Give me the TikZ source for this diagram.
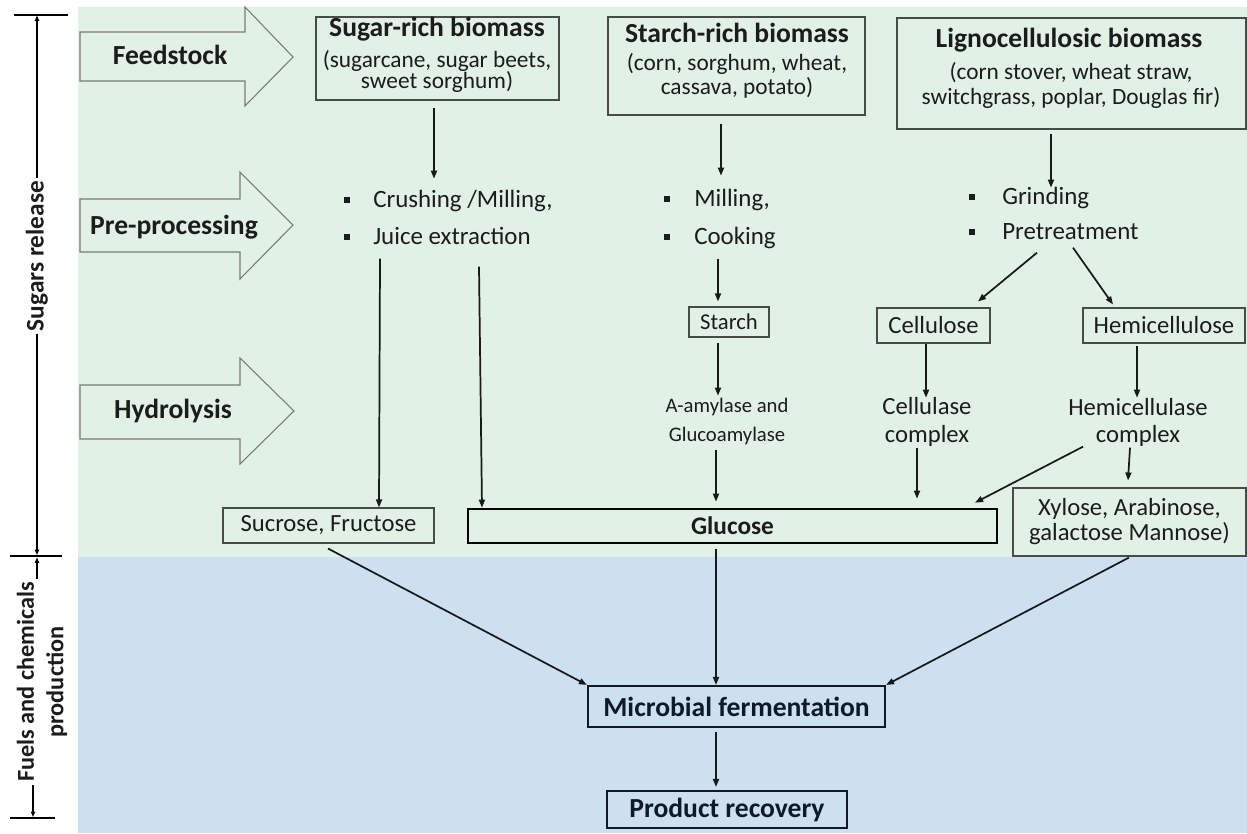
\documentclass[tikz,border=0pt]{standalone}
\usepackage{fontspec}
\setmainfont{Carlito}
\usetikzlibrary{arrows.meta,calc}
\definecolor{bggreen}{HTML}{E2F1E6}
\definecolor{bgblue}{HTML}{CCE0F0}
\definecolor{agray}{HTML}{7A7A7A}
\definecolor{bgray}{HTML}{4A4A4A}
\definecolor{navy}{HTML}{0E1A2B}
\definecolor{txt}{HTML}{1C1C1C}
\begin{document}
\begin{tikzpicture}[x=0.75pt,y=-0.75pt,
  lbl/.style={font=\fontsize{20.7}{24}\selectfont\bfseries,text=txt,inner sep=0,anchor=mid,yshift=-3.5pt},
  ttl/.style={font=\fontsize{20.7}{24}\selectfont\bfseries,text=txt,inner sep=0,anchor=mid,yshift=-3.5pt},
  bod/.style={font=\fontsize{17.5}{20}\selectfont,text=txt,inner sep=0,anchor=mid,yshift=-3.5pt},
  reg/.style={font=\fontsize{18.5}{22}\selectfont,text=txt,inner sep=0,anchor=mid,yshift=-3.5pt},
  bul/.style={font=\fontsize{18.7}{22}\selectfont,text=txt,inner sep=0,anchor=mid west,yshift=-3.5pt},
  enz/.style={font=\fontsize{15.5}{18}\selectfont,text=txt,inner sep=0,anchor=mid,yshift=-3.5pt},
  side/.style={font=\fontsize{19}{22}\selectfont\bfseries,text=txt,inner sep=0,rotate=90,align=center},
  sq/.style={fill=txt,minimum size=5.2pt,inner sep=0},
  tbox/.style={draw=bgray,line width=0.8pt,inner sep=0,font=\fontsize{18.5}{22}\selectfont,text=txt},
  gbox/.style={draw=black,line width=2pt,inner sep=0,font=\fontsize{19}{22}\selectfont\bfseries,text=txt},
  nbox/.style={draw=navy,line width=1.6pt,inner sep=0,font=\fontsize{20.7}{24}\selectfont\bfseries,text=navy},
  barrow/.style={fill=bggreen,draw=agray,line width=0.8pt},
  arr/.style={-{Triangle[length=6pt,width=4.5pt]},line width=1.3pt,draw=black!90},
  darr/.style={-{Triangle[length=4pt,width=3.2pt]},line width=0.9pt,draw=black},
  rule/.style={line width=1.1pt,draw=black}
]
\fill[white] (0,0) rectangle (1247,833);
\useasboundingbox (0,0) rectangle (1247,833);
\fill[bggreen] (78,7) rectangle (1247,557);
\fill[bgblue] (78,557) rectangle (1247,833);

% block arrows
\draw[barrow] (80,32) -- (245,32) -- (245,7) -- (293,57) -- (245,106) -- (245,81) -- (80,81) -- cycle;
\draw[barrow] (80,199) -- (240,199) -- (240,172) -- (293,225) -- (240,279) -- (240,252) -- (80,252) -- cycle;
\draw[barrow] (80,385) -- (240,385) -- (240,358) -- (294,411) -- (240,464) -- (240,439) -- (80,439) -- cycle;
\node[lbl] (fs) at (170,57) {Feedstock};
\node[lbl] (pp) at (174,227) {Pre-processing};
\node[lbl] (hy) at (173,411) {Hydrolysis};

% feedstock boxes
\node[tbox,minimum width=182.25pt,minimum height=62.25pt] (sbox) at (437.5,58.5) {};
\node[ttl] (st1) at (437,29) {Sugar-rich biomass};
\node[bod] (st2) at (437,60) {(sugarcane, sugar beets,};
\node[bod] (st3) at (437,81) {sweet sorghum)};

\node[tbox,minimum width=192.75pt,minimum height=73.5pt] (cbox) at (736.5,66) {};
\node[ttl] (ct1) at (737,35) {Starch-rich biomass};
\node[bod] (ct2) at (737,63) {(corn, sorghum, wheat,};
\node[bod] (ct3) at (737,87) {cassava, potato)};

\node[tbox,minimum width=261.75pt,minimum height=83.25pt] (lbox) at (1071.5,73.5) {};
\node[ttl] (lt1) at (1069,40) {Lignocellulosic biomass};
\node[bod] (lt2) at (1071,72) {(corn stover, wheat straw,};
\node[bod] (lt3) at (1071,97) {switchgrass, poplar, Douglas fir)};

% bullets
\node[sq] (b1) at (347,200) {}; \node[bul] (cr) at (373,200) {Crushing /Milling,};
\node[sq] (b2) at (347,237) {}; \node[bul] (je) at (373,237) {Juice extraction};
\node[sq] (b3) at (667,199) {}; \node[bul] (mi) at (694,199) {Milling,};
\node[sq] (b4) at (667,237) {}; \node[bul] (co) at (694,237) {Cooking};
\node[sq] (b5) at (972,197) {}; \node[bul] (gr) at (1002,197) {Grinding};
\node[sq] (b6) at (972,232) {}; \node[bul] (pt) at (1002,232) {Pretreatment};

% intermediate
\node[tbox,minimum width=60pt,minimum height=22.5pt,font=\fontsize{17}{20}\selectfont] (stb) at (729,322) {Starch};
\node[tbox,minimum width=84.75pt,minimum height=26.25pt] (cel) at (933.5,325.5) {Cellulose};
\node[tbox,minimum width=121.5pt,minimum height=26.25pt] (hem) at (1164,325.5) {Hemicellulose};
\node[enz] (am) at (727,405) {A-amylase and};
\node[enz] (ga) at (727,434) {Glucoamylase};
\node[reg] (cl) at (927,407) {Cellulase};
\node[reg] (cx) at (927,435) {complex};
\node[reg] (hl) at (1138,408) {Hemicellulase};
\node[reg] (hx) at (1138,435) {complex};

% sugars
\node[tbox,minimum width=158.25pt,minimum height=26.25pt] (suc) at (328.5,525.5) {Sucrose, Fructose};
\node[gbox,minimum width=396.75pt,minimum height=25.5pt] (glu) at (732.5,526) {Glucose};
\node[tbox,minimum width=174.75pt,minimum height=51pt,align=center,font=\fontsize{18.5}{18.75}\selectfont] (xy) at (1129.5,522) {Xylose, Arabinose,\\galactose Mannose)};

% production
\node[nbox,minimum width=222.75pt,minimum height=30.75pt] (mic) at (736.5,706.5) {Microbial fermentation};
\node[nbox,minimum width=180pt,minimum height=27.75pt] (prod) at (727,809.5) {Product recovery};

% side labels
\node[side] (sr) at (37,256) {Sugars release};
\node[side,font=\fontsize{18.2}{22}\selectfont\bfseries] (fc) at (42,682) {Fuels and chemicals\\production};
\coordinate (t1) at (37,15.5);
\coordinate (t2) at (37,555);
\coordinate (t3) at (37,557.5);
\coordinate (t4) at (33,817);
\draw[rule] (14,15) -- (68,15);
\draw[rule] (10,556) -- (62,556);
\draw[rule] (10,818) -- (55,818);
\draw[darr] ($(sr.east)+(0,-3)$) -- (t1);
\draw[darr] ($(sr.west)+(0,3)$) -- (t2);
\draw[darr] ($(fc.east)+(-5,-3)$) -- (t3);
\draw[darr] ($(fc.west)+(-9,3)$) -- (t4);

% connectors
\draw[arr] ($(sbox.south)+(-3.5,7)$) -- ($(cr.mid west)+(61,-26)$);
\draw[arr] ($(cbox.south)+(-15.5,8)$) -- ($(mi.mid west)+(27,-28)$);
\draw[arr] ($(lbox.south)+(-20.5,4)$) -- ($(gr.mid west)+(49,-14)$);
\draw[arr] ($(je.mid west)+(7,17)$) -- ($(suc.north)+(50.5,0)$);
\draw[arr] ($(je.mid west)+(106,25)$) -- ($(glu.north)+(-250.5,0)$);
\draw[arr] ($(co.mid west)+(24,17)$) -- ($(stb.north)+(-11,-5)$);
\draw[arr] ($(stb.south)+(-11,5)$) -- ($(am.mid)+(-9,-14)$);
\draw[arr] ($(ga.mid)+(-11,11)$) -- ($(glu.north)+(-16.5,-6)$);
\draw[arr] ($(pt.mid west)+(35,16)$) -- ($(cel.north)+(44.5,-6)$);
\draw[arr] ($(pt.mid west)+(71,11)$) -- ($(hem.north)+(-51,-3)$);
\draw[arr] ($(cel.south)+(-7.5,0)$) -- ($(cl.mid)+(-1,-14)$);
\draw[arr] ($(cx.mid)+(-10,8)$) -- ($(glu.north)+(184.5,-9)$);
\draw[arr] ($(hem.south)+(-27,2)$) -- ($(hl.mid)+(-1,-15)$);
\draw[arr] ($(hx.mid)+(-55,7)$) -- ($(glu.north)+(242.5,-5)$);
\draw[arr] ($(hx.mid)+(-8,8)$) -- ($(xy.north)+(-1.5,-7)$);
\draw[arr] ($(suc.south)+(-0.5,5)$) -- (mic.north west);
\draw[arr] ($(glu.south)+(-16.5,5)$) -- ($(mic.north)+(-20.5,0)$);
\draw[arr] ($(xy.south)+(-0.5,1)$) -- (mic.north east);
\draw[arr] ($(mic.south)+(-20.5,4)$) -- ($(prod.north)+(-11,-3)$);
\end{tikzpicture}
\end{document}
